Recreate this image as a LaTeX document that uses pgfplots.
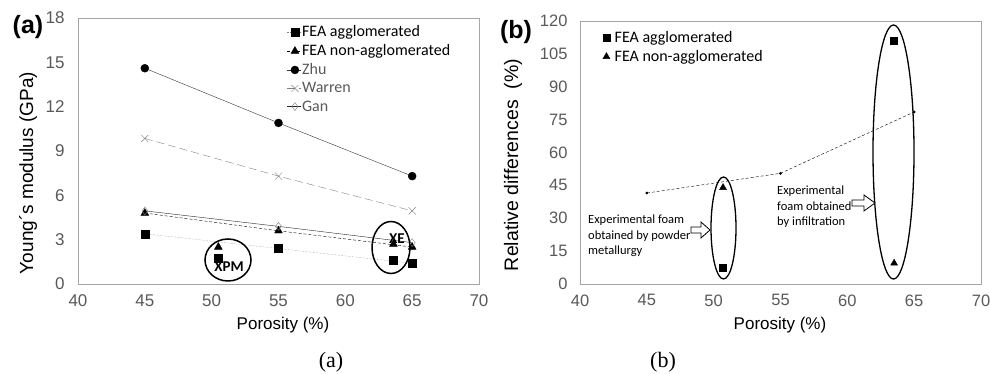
\documentclass[border=0pt]{standalone}
\usepackage{pgfplots}
\pgfplotsset{compat=1.18}
\usepackage{fontspec}
\setmainfont{Liberation Sans}
\newfontfamily\calibri{Carlito}
\newfontfamily\serifcap{Liberation Serif}
\definecolor{tickgray}{HTML}{595959}
\definecolor{framegray}{HTML}{A6A6A6}
\begin{document}
\begin{tikzpicture}[x=1pt,y=1pt]
\useasboundingbox (0,0) rectangle (990,374);
\pgfplotsset{
  common/.style={
    anchor=south west, scale only axis,
    xmin=40, xmax=70, xtick={40,45,50,55,60,65,70},
    axis line style={draw=framegray},
    major tick length=0pt,
    tick label style={text=tickgray},
    /pgf/number format/assume math mode=true,
    clip=false,
    legend cell align=left,
  }
}
% ---------------- (a)
\begin{axis}[common, at={(78pt,90pt)}, width=401pt, height=266pt,
  ymin=0, ymax=18, ytick={0,3,6,9,12,15,18},
  tick label style={font=\fontsize{17}{17}\selectfont},
  yticklabel style={xshift=-10pt},
  xticklabel style={yshift=-7pt},
  legend style={at={(0.52,0.975)}, anchor=north west, draw=none, fill=none,
    font=\calibri\fontsize{16}{16}\selectfont, row sep=4.3pt, inner sep=0pt,
    nodes={inner sep=1pt}},
  legend image code/.code={\draw[mark repeat=2,mark phase=2,#1] plot coordinates {(0pt,0pt) (8pt,0pt) (14pt,0pt)};},
]
\addplot[gray, densely dotted, mark=square*, mark size=4pt, mark options={solid, black}]
  coordinates {(45,3.4) (55,2.4) (65,1.4)};
\addlegendentry{FEA agglomerated}
\addplot[black, dash pattern=on 3pt off 2pt, mark=triangle*, mark size=4.5pt, mark options={solid, black}]
  coordinates {(45,4.8) (55,3.6) (65,2.5)};
\addlegendentry{FEA non-agglomerated}
\addplot[black!80, mark=*, mark size=4pt, mark options={solid, black}]
  coordinates {(45,14.6) (55,10.9) (65,7.3)};
\addlegendentry{\textcolor{tickgray}{Zhu}}
\addplot[gray, dash pattern=on 8pt off 4pt, mark=x, mark size=5pt, mark options={solid, gray}]
  coordinates {(45,9.85) (55,7.3) (65,4.95)};
\addlegendentry{\textcolor{tickgray}{Warren}}
\addplot[black!85, mark=diamond, mark size=4pt, mark options={solid, gray}]
  coordinates {(45,4.95) (55,3.9) (65,2.8)};
\addlegendentry{\textcolor{tickgray}{Gan}}
\addplot[only marks, mark=square*, mark size=4pt, black, forget plot]
  coordinates {(50.5,1.75) (63.6,1.6)};
\addplot[only marks, mark=triangle*, mark size=4.5pt, black, forget plot]
  coordinates {(50.5,2.5) (63.6,2.7)};
\end{axis}
% annotations (a)
\draw[black, line width=1.5pt] (228pt,114pt) ellipse [x radius=23pt, y radius=21pt];
\draw[black, line width=1.5pt] (391pt,126.5pt) ellipse [x radius=19pt, y radius=26pt];
\node[font=\calibri\bfseries\fontsize{15}{15}\selectfont] at (229pt,107pt) {XPM};
\node[font=\calibri\bfseries\fontsize{15}{15}\selectfont] at (397pt,135pt) {XE};
\node[font=\bfseries\fontsize{25}{25}\selectfont] at (28pt,346.5pt) {(a)};
\node[rotate=90, font=\fontsize{19}{19}\selectfont] at (28pt,201pt) {Young´s modulus (GPa)};
\node[font=\fontsize{17}{17}\selectfont] at (283pt,49pt) {Porosity (\%)};
\node[font=\serifcap\fontsize{22}{22}\selectfont] at (331pt,12pt) {(a)};
% ---------------- (b)
\begin{axis}[common, at={(580pt,90pt)}, width=401pt, height=263pt,
  ymin=0, ymax=120, ytick={0,15,30,45,60,75,90,105,120},
  tick label style={font=\fontsize{16.5}{16.5}\selectfont},
  yticklabel style={xshift=-9pt},
  xticklabel style={yshift=-7pt},
  legend style={at={(0.055,0.965)}, anchor=north west, draw=none, fill=none,
    font=\calibri\fontsize{16}{16}\selectfont, row sep=4.3pt, inner sep=0pt,
    nodes={inner sep=1pt}},
  legend image code/.code={\draw[#1] plot coordinates {(0pt,0pt)}; \path (-4pt,0pt) (7pt,0pt);},
]
\addplot[only marks, mark=square*, mark size=3.5pt, black]
  coordinates {(50.7,7.5) (63.5,111)};
\addlegendentry{FEA agglomerated}
\addplot[only marks, mark=triangle*, mark size=4pt, black]
  coordinates {(50.7,44) (63.5,9.5)};
\addlegendentry{FEA non-agglomerated}
\addplot[black, dash pattern=on 3pt off 2pt, mark=*, mark size=1.2pt, mark options={solid}, forget plot]
  coordinates {(45,41.5) (55,50.5) (65,78.5)};
\end{axis}
% annotations (b)
\draw[black, line width=1.3pt] (723.5pt,146pt) ellipse [x radius=12.5pt, y radius=51pt];
\draw[black, line width=1.3pt] (893.5pt,222pt) ellipse [x radius=20.5pt, y radius=127pt];
\node[anchor=north west, align=left, inner sep=0pt, font=\calibri\fontsize{12.5}{15.5}\selectfont] at (588pt,159pt)
  {Experimental foam\\obtained by powder\\metallurgy};
\node[anchor=north west, align=left, inner sep=0pt, font=\calibri\fontsize{12.5}{15.5}\selectfont] at (777pt,188pt)
  {Experimental\\foam obtained\\by infiltration};
\draw[black, line width=0.8pt, fill=white] (691pt,147pt) -- (701pt,147pt) -- (701pt,152pt) -- (710pt,144pt) -- (701pt,136pt) -- (701pt,141pt) -- (691pt,141pt) -- cycle;
\draw[black, line width=0.8pt, fill=white] (852pt,174pt) -- (864pt,174pt) -- (864pt,179pt) -- (875pt,171pt) -- (864pt,163pt) -- (864pt,168pt) -- (852pt,168pt) -- cycle;
\node[font=\bfseries\fontsize{25}{25}\selectfont] at (516pt,341.5pt) {(b)};
\node[rotate=90, font=\fontsize{19.5}{19.5}\selectfont] at (513pt,209pt) {Relative differences\ \ (\%)};
\node[font=\fontsize{17}{17}\selectfont] at (780pt,49pt) {Porosity (\%)};
\node[font=\serifcap\fontsize{22}{22}\selectfont] at (663pt,12pt) {(b)};
\end{tikzpicture}
\end{document}
